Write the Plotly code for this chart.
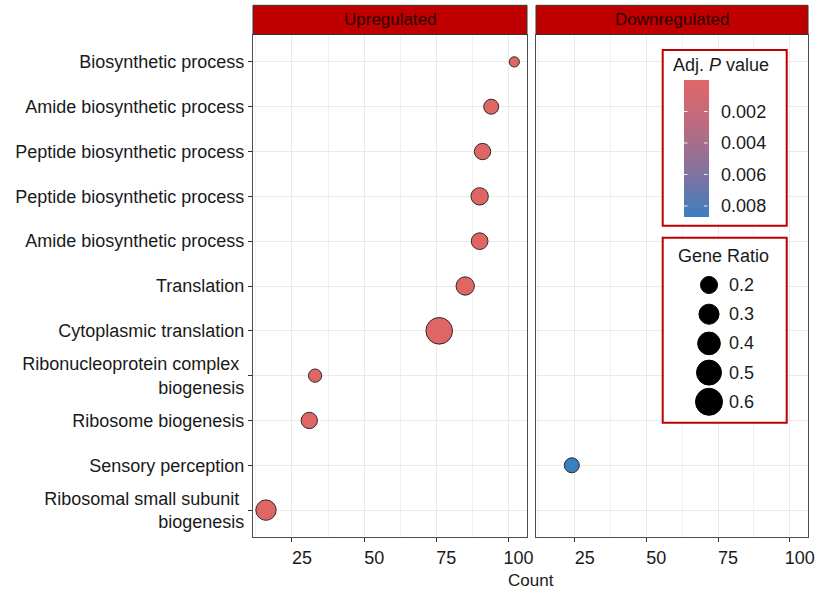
import plotly.graph_objects as go

# ---------------- data ----------------
terms = [
    "Biosynthetic process",
    "Amide biosynthetic process",
    "Peptide biosynthetic process",
    "Peptide biosynthetic process",
    "Amide biosynthetic process",
    "Translation",
    "Cytoplasmic translation",
    "Ribonucleoprotein complex <br>biogenesis",
    "Ribosome biogenesis",
    "Sensory perception",
    "Ribosomal small subunit <br>biogenesis",
]

up_term_idx = [0, 1, 2, 3, 4, 5, 6, 7, 8, 10]
up_count = [102, 94, 91, 90, 90, 85, 76, 33, 31, 16]
up_ratio = [0.05, 0.145, 0.18, 0.21, 0.19, 0.24, 0.58, 0.105, 0.18, 0.31]
up_padj = [1.1e-9, 2.3e-12, 1.8e-12, 3.0e-12, 2.5e-12, 4.1e-11, 6.2e-15, 3.3e-6, 1.2e-6, 2.0e-5]

down_term_idx = [9]
down_count = [24]
down_ratio = [0.145]
down_padj = [0.0087]

panel_titles = ["Upregulated", "Downregulated"]
x_ticks = [25, 50, 75, 100]
p_ticks = [0.002, 0.004, 0.006, 0.008]
size_breaks = [0.2, 0.3, 0.4, 0.5, 0.6]

# ---------------- helpers ----------------
W, H = 818, 594
FONT = "Liberation Sans, Arial, sans-serif"
TXT = "#1A1A1A"
N = len(terms)
P_MAX = 0.0087


def fx(p):
    return p / W


def fy(p):
    return 1 - p / H


def ypos(i):
    return N - i


def msize(r):
    # area-like size scale (diameter in px)
    return 3.4 + 30.5 * r ** 0.5


# colour is mapped on -padj so that small p (red) sits at the top of the bar
colorscale = [
    [0.0, "#3B7EC0"],
    [0.25, "#7475A6"],
    [0.5, "#A06E8F"],
    [0.75, "#C66A7B"],
    [1.0, "#E06666"],
]

fig = go.Figure()

fig.add_trace(go.Scatter(
    x=up_count, y=[ypos(i) for i in up_term_idx], xaxis="x", yaxis="y",
    mode="markers",
    marker=dict(size=[msize(r) for r in up_ratio], color=[-p for p in up_padj],
                coloraxis="coloraxis", line=dict(color="#2B2B2B", width=1), opacity=1),
    showlegend=False, hoverinfo="skip",
))
fig.add_trace(go.Scatter(
    x=down_count, y=[ypos(i) for i in down_term_idx], xaxis="x2", yaxis="y2",
    mode="markers",
    marker=dict(size=[msize(r) for r in down_ratio], color=[-p for p in down_padj],
                coloraxis="coloraxis", line=dict(color="#2B2B2B", width=1), opacity=1),
    showlegend=False, hoverinfo="skip",
))

# size legend (inset subplot)
leg_y = [285 + 29.2 * k for k in range(len(size_breaks))]
fig.add_trace(go.Scatter(
    x=[709] * len(size_breaks), y=leg_y, xaxis="x3", yaxis="y3",
    mode="markers",
    marker=dict(size=[msize(r) for r in size_breaks], color="#000000", opacity=1,
                line=dict(color="#000000", width=1)),
    showlegend=False, hoverinfo="skip",
))
for b, yy in zip(size_breaks, leg_y):
    fig.add_annotation(x=727, y=yy, xref="x3", yref="y3", text=f"{b:.1f}",
                       showarrow=False, xanchor="left", yanchor="middle",
                       font=dict(size=18, color=TXT, family=FONT))

# ---------------- axes ----------------
xr = [11.5, 106.4]
common_x = dict(
    range=xr, tickvals=x_ticks, ticks="outside", ticklen=4, tickwidth=1,
    tickcolor="#333333", showline=True, mirror=True, linecolor="#4D4D4D", linewidth=1.2,
    showgrid=True, gridcolor="#EBEBEB", gridwidth=1.1, zeroline=False, automargin=False,
    minor=dict(tickvals=[12.5, 37.5, 62.5, 87.5], showgrid=True, gridcolor="#F2F2F2", gridwidth=0.7),
    tickfont=dict(size=18, color=TXT, family=FONT), ticklabelshift=10,
)
common_y = dict(
    range=[0.4, N + 0.6], tickvals=[ypos(i) for i in range(N)], showline=True, mirror=True,
    linecolor="#4D4D4D", linewidth=1.2, showgrid=True, gridcolor="#EBEBEB", gridwidth=1.1,
    zeroline=False, domain=[fy(537), fy(35)], automargin=False,
)

fig.update_layout(
    width=W, height=H, margin=dict(l=0, r=0, t=0, b=0, pad=0, autoexpand=False),
    paper_bgcolor="white", plot_bgcolor="white",
    font=dict(family=FONT, color=TXT),
    xaxis=dict(domain=[fx(253), fx(527)], anchor="y", **common_x),
    xaxis2=dict(domain=[fx(536), fx(808)], anchor="y2", **common_x),
    yaxis=dict(anchor="x", ticktext=terms, ticks="outside", ticklen=4, tickcolor="#333333",
               tickfont=dict(size=18, color=TXT, family=FONT), **common_y),
    yaxis2=dict(anchor="x2", showticklabels=False, ticks="", **common_y),
    xaxis3=dict(domain=[fx(664), fx(785)], anchor="y3", range=[664, 785], visible=False),
    yaxis3=dict(domain=[fy(421), fy(239)], anchor="x3", range=[421, 239], visible=False),
    coloraxis=dict(
        cmin=-P_MAX, cmax=0, colorscale=colorscale,
        colorbar=dict(
            x=fx(684), xanchor="left", xpad=0, y=fy(80), yanchor="top", ypad=0,
            len=137 / H, lenmode="fraction", thickness=25, thicknessmode="pixels",
            outlinewidth=0, tickvals=[-p for p in p_ticks],
            ticktext=[f"{p:.3f}" for p in p_ticks], ticks="outside",
            tickcolor="rgba(255,255,255,0)", ticklen=9, tickwidth=1,
            tickfont=dict(size=18, color=TXT, family=FONT),
        ),
    ),
)

shapes = []
# strips
for x0, x1 in [(253, 527), (536, 808)]:
    shapes.append(dict(type="rect", xref="paper", yref="paper", x0=fx(x0), x1=fx(x1),
                       y0=fy(34.5), y1=fy(5.3), fillcolor="#C00000",
                       line=dict(color="#333333", width=1), layer="above"))
# legend boxes
shapes.append(dict(type="rect", xref="paper", yref="paper", x0=fx(662.7), x1=fx(786.7),
                   y0=fy(225.7), y1=fy(50), fillcolor="white",
                   line=dict(color="#C00000", width=2), layer="above"))
shapes.append(dict(type="rect", xref="paper", yref="paper", x0=fx(662.7), x1=fx(786.7),
                   y0=fy(422.7), y1=fy(237.7), fillcolor="rgba(0,0,0,0)",
                   line=dict(color="#C00000", width=2), layer="above"))
fig.update_layout(shapes=shapes)

# white tick dashes on both edges of the colour bar (drawn above the bar)
for p in p_ticks:
    yy = 80 + (p / P_MAX) * 137
    for xa in [684, 704]:
        fig.add_annotation(x=fx(xa), y=fy(yy), xref="paper", yref="paper",
                           ax=5, ay=0, axref="pixel", ayref="pixel", text="",
                           showarrow=True, arrowhead=0, arrowwidth=1,
                           arrowcolor="rgba(255,255,255,0.9)", standoff=0, startstandoff=0)

# strip labels
for t, xc in zip(panel_titles, [(253 + 527) / 2, (536 + 808) / 2]):
    fig.add_annotation(x=fx(xc), y=fy(19.5), xref="paper", yref="paper", text=t,
                       showarrow=False, xanchor="center", yanchor="middle",
                       font=dict(size=17, color="#2A0000", family=FONT))

# legend titles
fig.add_annotation(x=fx(721), y=fy(65), xref="paper", yref="paper",
                   text="Adj. <i>P</i> value", showarrow=False, xanchor="center",
                   yanchor="middle", font=dict(size=18, color=TXT, family=FONT))
fig.add_annotation(x=fx(723), y=fy(256), xref="paper", yref="paper",
                   text="Gene Ratio", showarrow=False, xanchor="center",
                   yanchor="middle", font=dict(size=18, color=TXT, family=FONT))

# x title
fig.add_annotation(x=fx(531), y=fy(580), xref="paper", yref="paper", text="Count",
                   showarrow=False, xanchor="center", yanchor="middle",
                   font=dict(size=17, color=TXT, family=FONT))

fig.write_html(
    "out.html",
    config={"displayModeBar": False, "responsive": False},
    post_script="document.body.style.margin='0';document.body.style.padding='0';"
                "document.body.style.overflow='hidden';",
)
